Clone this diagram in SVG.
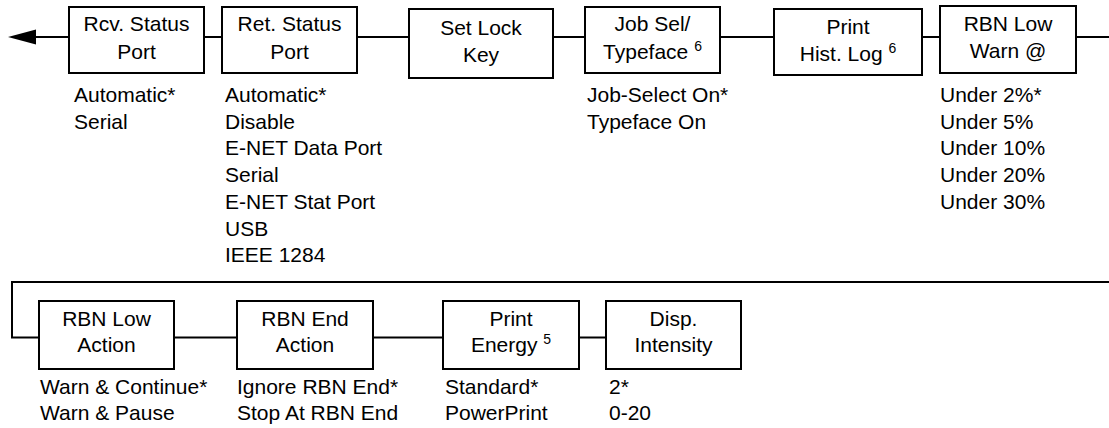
<svg xmlns="http://www.w3.org/2000/svg" width="1109" height="428" viewBox="0 0 1109 428">
<style>
  rect.box { fill: #fff; stroke: #000; stroke-width: 2; }
  text { font-family: "Liberation Sans", Arial, sans-serif; font-size: 21px; fill: #000; }
  text.c { text-anchor: middle; }
  tspan.sup { font-size: 14px; }
  .conn { fill: none; stroke: #000; stroke-width: 2; }
</style>
<defs>
  <marker id="arrow" markerUnits="userSpaceOnUse" markerWidth="30" markerHeight="16" refX="1" refY="7.5" orient="auto" overflow="visible">
    <path d="M0,0 L28,7.5 L0,15 z" fill="#000"/>
  </marker>
</defs>
<rect width="1109" height="428" fill="#fff"/>
<g id="connectors">
  <line class="conn" x1="69" y1="37" x2="35" y2="37" marker-end="url(#arrow)"/>
  <line class="conn" x1="204" y1="37" x2="222" y2="37"/>
  <line class="conn" x1="357" y1="37" x2="409" y2="37"/>
  <line class="conn" x1="553" y1="37" x2="585" y2="37"/>
  <line class="conn" x1="720" y1="37" x2="774" y2="37"/>
  <line class="conn" x1="922" y1="37" x2="940" y2="37"/>
  <line class="conn" x1="1076" y1="37" x2="1109" y2="37"/>
  <path class="conn" d="M1109,282 H12 V337.5 H39"/>
  <line class="conn" x1="174" y1="337.5" x2="237" y2="337.5"/>
  <line class="conn" x1="373" y1="337.5" x2="443" y2="337.5"/>
  <line class="conn" x1="579" y1="337.5" x2="606" y2="337.5"/>
</g>
<g id="node-rcv-status-port">
  <rect class="box" x="69" y="7" width="135" height="66"/>
  <text class="c" x="136.5" y="31">Rcv. Status</text>
  <text class="c" x="136.5" y="58.5">Port</text>
  <text x="74" y="102">Automatic*</text>
  <text x="74" y="128.7">Serial</text>
</g>
<g id="node-ret-status-port">
  <rect class="box" x="222" y="7" width="135" height="66"/>
  <text class="c" x="289.5" y="31">Ret. Status</text>
  <text class="c" x="289.5" y="58.5">Port</text>
  <text x="225" y="102">Automatic*</text>
  <text x="225" y="128.7">Disable</text>
  <text x="225" y="155.4">E-NET Data Port</text>
  <text x="225" y="182.1">Serial</text>
  <text x="225" y="208.8">E-NET Stat Port</text>
  <text x="225" y="235.5">USB</text>
  <text x="225" y="262.2">IEEE 1284</text>
</g>
<g id="node-set-lock-key">
  <rect class="box" x="409" y="9" width="144" height="69"/>
  <text class="c" x="481" y="34.5">Set Lock</text>
  <text class="c" x="481" y="62">Key</text>
</g>
<g id="node-job-sel-typeface">
  <rect class="box" x="585" y="7" width="135" height="66"/>
  <text class="c" x="652.5" y="31">Job Sel/</text>
  <text class="c" x="652.5" y="58.5">Typeface <tspan class="sup" dy="-8">6</tspan></text>
  <text x="587" y="102">Job-Select On*</text>
  <text x="587" y="128.7">Typeface On</text>
</g>
<g id="node-print-hist-log">
  <rect class="box" x="774" y="9" width="148" height="66"/>
  <text class="c" x="848" y="33.5">Print</text>
  <text class="c" x="848" y="61">Hist. Log <tspan class="sup" dy="-8">6</tspan></text>
</g>
<g id="node-rbn-low-warn">
  <rect class="box" x="940" y="6" width="136" height="67"/>
  <text class="c" x="1008" y="31">RBN Low</text>
  <text class="c" x="1008" y="58">Warn @</text>
  <text x="940" y="102">Under 2%*</text>
  <text x="940" y="128.7">Under 5%</text>
  <text x="940" y="155.4">Under 10%</text>
  <text x="940" y="182.1">Under 20%</text>
  <text x="940" y="208.8">Under 30%</text>
</g>
<g id="node-rbn-low-action">
  <rect class="box" x="39" y="301" width="135" height="68"/>
  <text class="c" x="106.5" y="325.5">RBN Low</text>
  <text class="c" x="106.5" y="352">Action</text>
  <text x="40" y="393.5">Warn &amp; Continue*</text>
  <text x="40" y="420">Warn &amp; Pause</text>
</g>
<g id="node-rbn-end-action">
  <rect class="box" x="237" y="301" width="136" height="68"/>
  <text class="c" x="305" y="325.5">RBN End</text>
  <text class="c" x="305" y="352">Action</text>
  <text x="237" y="393.5">Ignore RBN End*</text>
  <text x="237" y="420">Stop At RBN End</text>
</g>
<g id="node-print-energy">
  <rect class="box" x="443" y="301" width="136" height="68"/>
  <text class="c" x="511" y="325.5">Print</text>
  <text class="c" x="511" y="352">Energy <tspan class="sup" dy="-8">5</tspan></text>
  <text x="445" y="393.5">Standard*</text>
  <text x="445" y="420">PowerPrint</text>
</g>
<g id="node-disp-intensity">
  <rect class="box" x="606" y="301" width="135" height="68"/>
  <text class="c" x="673.5" y="325.5">Disp.</text>
  <text class="c" x="673.5" y="352">Intensity</text>
  <text x="609" y="393.5">2*</text>
  <text x="609" y="420">0-20</text>
</g>
</svg>
